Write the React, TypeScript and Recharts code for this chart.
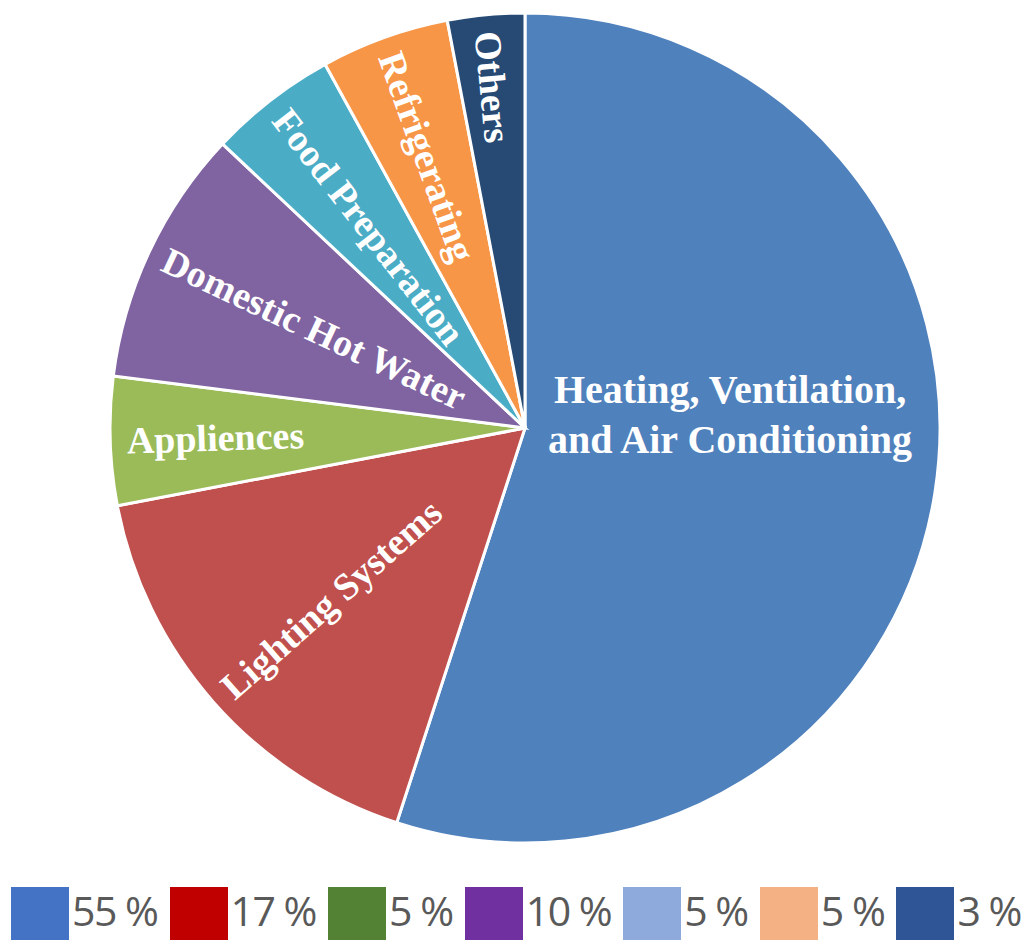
import React from 'react';
import { PieChart, Pie, Cell, Legend } from 'recharts';

// Residential energy use by end use (share of total, %)
const categories = [
  'Heating, Ventilation, and Air Conditioning',
  'Lighting Systems',
  'Appliences',
  'Domestic Hot Water',
  'Food Preparation',
  'Refrigerating',
  'Others',
];
const shares = [55, 17, 5, 10, 5, 5, 3];

// Text drawn inside each slice (one entry per category, one string per line)
const sliceLabelLines = [
  ['Heating, Ventilation,', 'and Air Conditioning'],
  ['Lighting Systems'],
  ['Appliences'],
  ['Domestic Hot Water'],
  ['Food Preparation'],
  ['Refrigerating'],
  ['Others'],
];

const sliceColors = ['#4F81BD', '#C0504D', '#9BBB59', '#8064A2', '#4BACC6', '#F79646', '#264A74'];
const legendColors = ['#4472C4', '#C00000', '#548235', '#7030A0', '#8EA9DB', '#F4B183', '#2F5597'];
const legendLabels = shares.map((v) => `${v} %`);

const data = categories.map((name, i) => ({ name, value: shares[i] }));

const RAD = Math.PI / 180;
const serif = "'Liberation Serif', 'Times New Roman', serif";

function SliceLabel(props: any) {
  const { cx, cy, midAngle, outerRadius, index } = props;
  const lines = sliceLabelLines[index];
  if (lines.length > 1) {
    // large slice: horizontal, two centred lines
    const x = cx + outerRadius * 0.494;
    return (
      <text fill="#fff" textAnchor="middle" fontFamily={serif} fontWeight="bold" fontSize={40}>
        {lines.map((line, i) => (
          <tspan key={i} x={x} y={cy + (i === 0 ? -1 : 1) * outerRadius * 0.06}>
            {line}
          </tspan>
        ))}
      </text>
    );
  }
  // narrow slices: text runs along the radius, from the rim toward the centre
  const r = outerRadius * 0.96;
  const x = cx + r * Math.cos(-midAngle * RAD);
  const y = cy + r * Math.sin(-midAngle * RAD);
  const rot = Math.atan2(Math.sin(midAngle * RAD), -Math.cos(midAngle * RAD)) / RAD;
  return (
    <text
      x={x}
      y={y}
      transform={`rotate(${rot} ${x} ${y})`}
      fill="#fff"
      textAnchor="start"
      dominantBaseline="central"
      fontFamily={serif}
      fontWeight="bold"
      fontSize={38}
    >
      {lines[0]}
    </text>
  );
}

function LegendRow() {
  return (
    <div
      style={{
        display: 'flex',
        justifyContent: 'space-between',
        alignItems: 'flex-start',
        paddingLeft: 11,
        paddingRight: 6,
        boxSizing: 'border-box',
        width: '100%',
      }}
    >
      {legendLabels.map((label, i) => (
        <div key={i} style={{ display: 'flex', alignItems: 'flex-start' }}>
          <div style={{ width: 58, height: 53, background: legendColors[i] }} />
          <span
            style={{
              marginLeft: 3,
              marginTop: 3,
              fontFamily: "'Open Sans', sans-serif",
              fontSize: 41,
              lineHeight: '41px',
              height: 41,
              letterSpacing: -1.5,
              color: '#595959',
              whiteSpace: 'nowrap',
            }}
          >
            {label}
          </span>
        </div>
      ))}
    </div>
  );
}

export default function App() {
  return (
    <div
      style={{
        position: 'absolute',
        left: 0,
        top: 0,
        width: 1027,
        height: 940,
        overflow: 'hidden',
        background: '#fff',
      }}
    >
      <PieChart width={1027} height={940} margin={{ top: 0, right: 0, bottom: 0, left: 0 }}>
        <Pie
          data={data}
          dataKey="value"
          nameKey="name"
          cx={525}
          cy={428}
          outerRadius={415}
          startAngle={90}
          endAngle={-270}
          stroke="#fff"
          strokeWidth={3}
          label={SliceLabel}
          labelLine={false}
          isAnimationActive={false}
        >
          {data.map((d, i) => (
            <Cell key={d.name} fill={sliceColors[i]} />
          ))}
        </Pie>
        <Legend
          content={() => <LegendRow />}
          wrapperStyle={{ position: 'absolute', left: 0, top: 887, bottom: 'auto', width: 1027, height: 53 }}
        />
      </PieChart>
    </div>
  );
}
